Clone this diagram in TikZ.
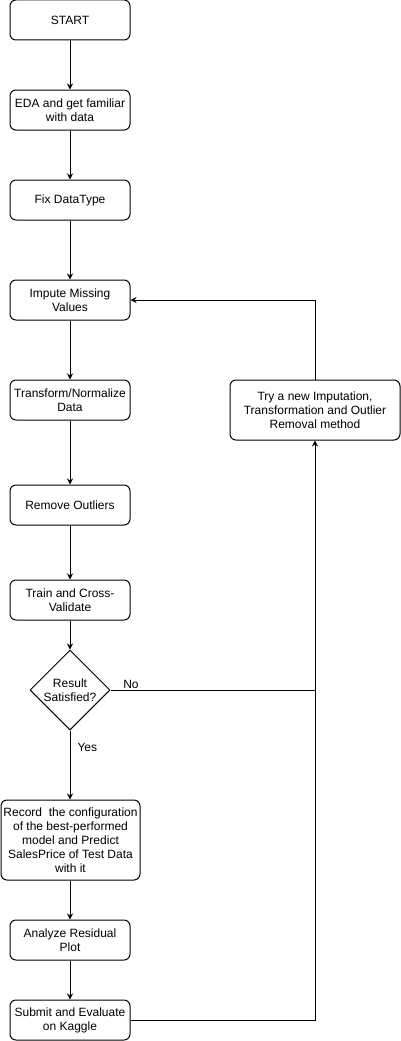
\documentclass[tikz,border=0pt]{standalone}
\usepackage{fontspec}
\setmainfont{Liberation Sans}
\usetikzlibrary{shapes.geometric,arrows.meta}
\begin{document}
\begin{tikzpicture}[x=1pt,y=-1pt,
    box/.style={draw,rounded corners=6pt,line width=1pt,minimum width=120pt,minimum height=40pt,align=center,inner sep=1pt,font=\fontsize{12}{14}\selectfont},
    flow/.style={line width=1pt,-{Stealth[length=6pt,width=6pt,inset=2pt]}},
    lbl/.style={font=\fontsize{12}{14}\selectfont,inner sep=1pt}]
  \useasboundingbox (0,0) rectangle (401,1041);
  % main column
  \node[box] (start) at (70,20) {START};
  \node[box] (eda) at (70,110) {EDA and get familiar\\with data};
  \node[box] (fixtype) at (70,200) {Fix DataType};
  \node[box] (impute) at (70,300) {Impute Missing\\Values};
  \node[box] (transform) at (70,400) {Transform/Normalize\\Data};
  \node[box] (outliers) at (70,505) {Remove Outliers};
  \node[box] (train) at (70,600) {Train and Cross-\\Validate};
  \node[draw,diamond,line width=1pt,minimum width=80pt,minimum height=80pt,inner sep=0pt] (result) at (70,690) {};
  \node[lbl,align=center] (resulttext) at (result) {Result\\Satisfied?};
  \node[box,minimum width=139pt,minimum height=80pt] (record) at (70.5,840) {Record\ \ the configuration\\of the best-performed\\model and Predict\\SalesPrice of Test Data\\with it};
  \node[box] (residual) at (70,940) {Analyze Residual\\Plot};
  \node[box] (submit) at (70,1020) {Submit and Evaluate\\on Kaggle};
  % loop back
  \node[box,minimum width=170pt,minimum height=60pt] (retry) at (315,410) {Try a new Imputation,\\Transformation and Outlier\\Removal method};
  \draw[flow] (start) -- (eda);
  \draw[flow] (eda) -- (fixtype);
  \draw[flow] (fixtype) -- (impute);
  \draw[flow] (impute) -- (transform);
  \draw[flow] (transform) -- (outliers);
  \draw[flow] (outliers) -- (train);
  \draw[flow] (train) -- (result);
  \draw[flow] (result) -- node[lbl,near start,right=6pt] {Yes} (result.south |- record.north);
  \draw[flow] (record.south -| residual.north) -- (residual);
  \draw[flow] (residual) -- (submit);
  \draw[line width=1pt] (result.east) -- node[lbl,pos=0.1,above] {No} (result.east -| retry.south);
  \draw[flow] (submit.east) -| (retry.south);
  \draw[flow] (retry.north) |- (impute.east);
\end{tikzpicture}
\end{document}
